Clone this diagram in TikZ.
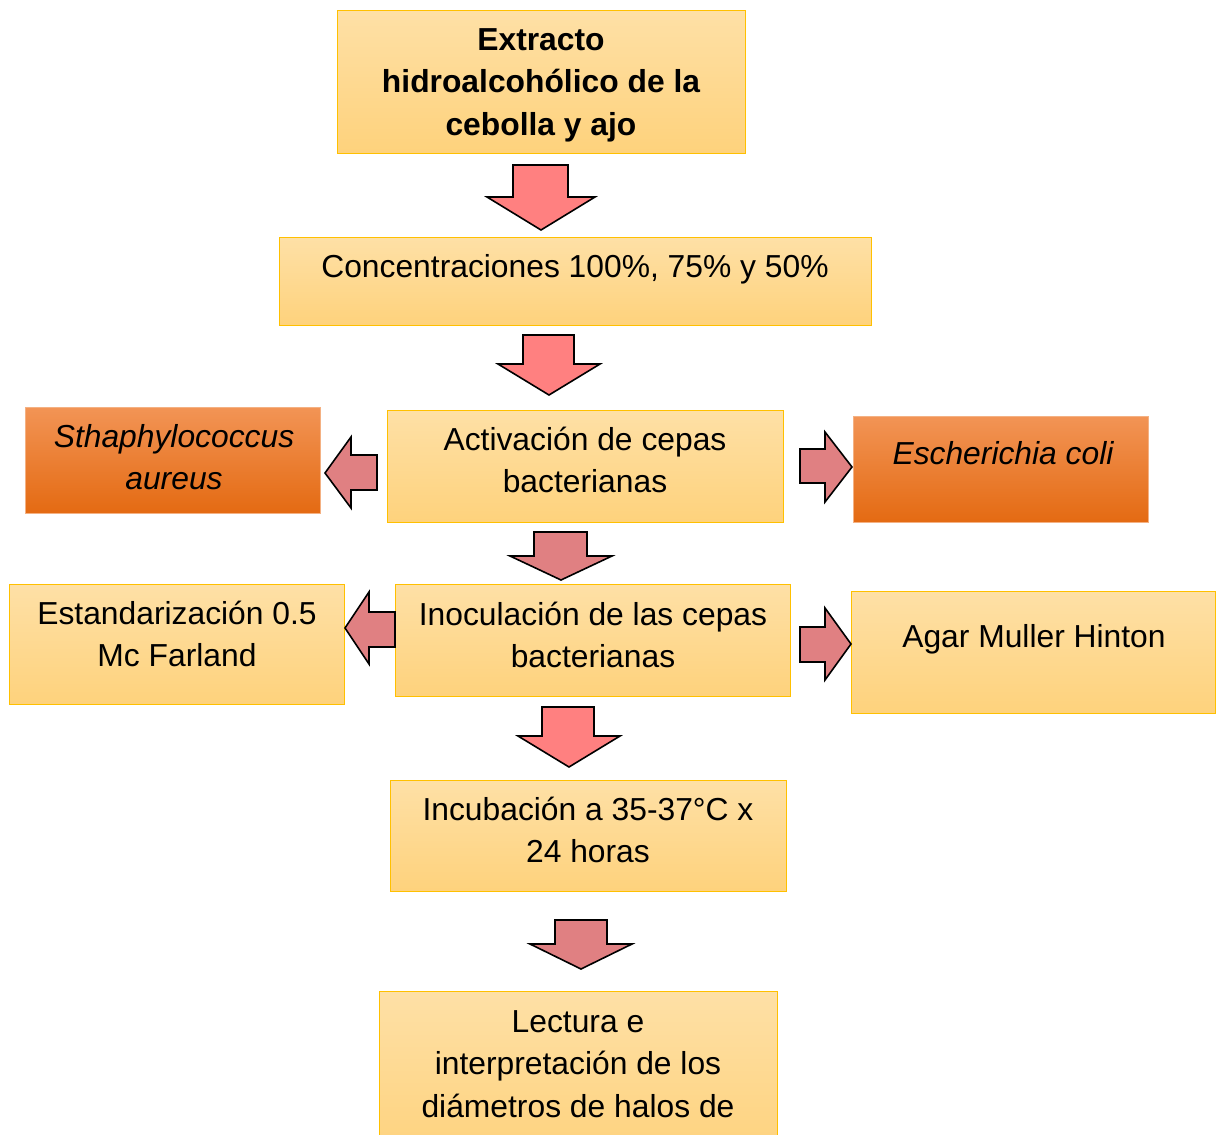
\documentclass[tikz,border=0pt]{standalone}
\usepackage{fontspec}
\setmainfont{Liberation Sans}
\definecolor{ytop}{HTML}{FEE0A6}
\definecolor{ybot}{HTML}{FED27C}
\definecolor{yline}{HTML}{FFC000}
\definecolor{otop}{HTML}{F29455}
\definecolor{obot}{HTML}{E46A12}
\definecolor{oline}{HTML}{F4B183}
\definecolor{arrA}{HTML}{FF8080}
\definecolor{arrB}{HTML}{E08082}
\newcommand\fsz{\fontsize{31.8}{42.5}\selectfont}
\tikzset{
  ybox/.style={draw=yline, line width=1.2pt, top color=ytop, bottom color=ybot, anchor=north west, inner sep=0pt},
  obox/.style={draw=oline, line width=1.2pt, top color=otop, bottom color=obot, anchor=north west, inner sep=0pt},
  txt/.style={align=center, font=\fsz, inner sep=0pt, text=black},
  barA/.style={draw=black, line width=1.6pt, fill=arrA, line join=miter},
  barB/.style={draw=black, line width=1.6pt, fill=arrB, line join=miter}
}
\begin{document}
\begin{tikzpicture}[x=1pt,y=-1pt]
\useasboundingbox (0,0) rectangle (1216,1135);
% boxes
\node[ybox, minimum width=408pt, minimum height=143pt] (b1) at (337,10) {};
\node[ybox, minimum width=592pt, minimum height=88pt] (b2) at (279,237) {};
\node[ybox, minimum width=396pt, minimum height=112pt] (b3) at (387,410) {};
\node[obox, minimum width=295pt, minimum height=106pt] (b4) at (25,407) {};
\node[obox, minimum width=295pt, minimum height=106pt] (b5) at (853,416) {};
\node[ybox, minimum width=335pt, minimum height=120pt] (b6) at (9,584) {};
\node[ybox, minimum width=395pt, minimum height=112pt] (b7) at (395,584) {};
\node[ybox, minimum width=364pt, minimum height=122pt] (b8) at (851,591) {};
\node[ybox, minimum width=396pt, minimum height=111pt] (b9) at (390,780) {};
\node[ybox, minimum width=398pt, minimum height=170pt] (b10) at (379,991) {};
% texts
\node[txt, font=\fsz\bfseries] (t1) at (541,84) {\strut Extracto\\\strut hidroalcohólico de la\\\strut cebolla y ajo};
\node[txt] (t2) at (575,269) {\strut Concentraciones 100\%, 75\% y 50\%};
\node[txt] (t3) at (585,463) {\strut Activación de cepas\\\strut bacterianas};
\node[txt, font=\fsz\itshape] (t4) at (174,460) {\strut Sthaphylococcus\\\strut aureus};
\node[txt, font=\fsz\itshape] (t5) at (1003,456) {\strut Escherichia coli};
\node[txt] (t6) at (177,637) {\strut Estandarización 0.5\\\strut Mc Farland};
\node[txt] (t7) at (593,638) {\strut Inoculación de las cepas\\\strut bacterianas};
\node[txt] (t8) at (1034,639) {\strut Agar Muller Hinton};
\node[txt] (t9) at (588,833) {\strut Incubación a 35-37°C x\\\strut 24 horas};
\node[txt] (t10) at (578,1066) {\strut Lectura e\\\strut interpretación de los\\\strut diámetros de halos de};
% block arrows
\draw[barA] (513,165) -- (568,165) -- (568,197) -- (595,197) -- (541,230) -- (487,197) -- (513,197) -- cycle;
\draw[barA] (523,335) -- (574,335) -- (574,364) -- (600,364) -- (549,395) -- (498,364) -- (523,364) -- cycle;
\draw[barB] (377,455) -- (377,490) -- (351,490) -- (351,508) -- (325,473) -- (351,437) -- (351,455) -- cycle;
\draw[barB] (800,449) -- (825,449) -- (825,432) -- (852,467) -- (825,502) -- (825,483) -- (800,483) -- cycle;
\draw[barB] (534,532) -- (587,532) -- (587,556) -- (612,556) -- (561,580) -- (510,556) -- (534,556) -- cycle;
\draw[barB] (395,612) -- (395,647) -- (369,647) -- (369,664) -- (345,628) -- (369,592) -- (369,612) -- cycle;
\draw[barB] (800,627) -- (825,627) -- (825,608) -- (851,644) -- (825,680) -- (825,662) -- (800,662) -- cycle;
\draw[barA] (542,707) -- (594,707) -- (594,736) -- (620,736) -- (569,767) -- (518,736) -- (542,736) -- cycle;
\draw[barB] (555,920) -- (607,920) -- (607,944) -- (632,944) -- (581,969) -- (530,944) -- (555,944) -- cycle;
\end{tikzpicture}
\end{document}
